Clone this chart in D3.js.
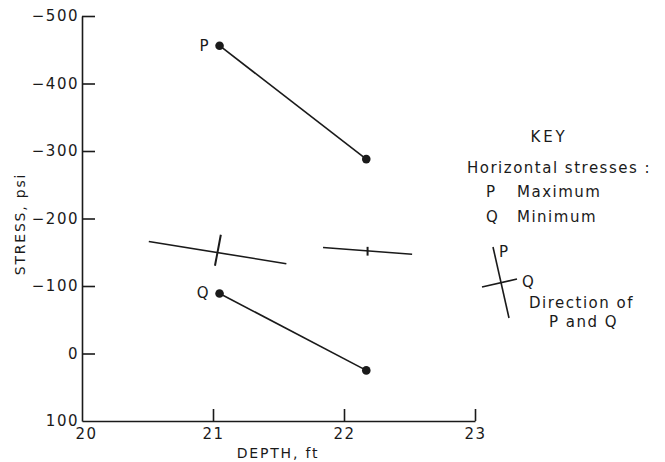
<!DOCTYPE html>
<html><head><meta charset="utf-8">
<script src="https://cdn.jsdelivr.net/npm/d3@7"></script>
<style>
html,body{margin:0;padding:0;background:#fff;}
svg text{font-family:"DejaVu Sans",sans-serif;fill:#1a1a1a;}
</style></head>
<body><svg id="c" width="665" height="462"></svg>
<script>
// ---- data ----
const xTickValues = [20, 21, 22, 23];
const xTickLabels = ["20", "21", "22", "23"];
const yTickValues = [-500, -400, -300, -200, -100, 0, 100];
const yTickLabels = ["\u2212500", "\u2212400", "\u2212300", "\u2212200", "\u2212100", "0", "100"];
const seriesNames = ["P", "Q"];
const pDepth = [21.05, 22.17];
const pStress = [-456, -288];
const qDepth = [21.05, 22.17];
const qStress = [-89, 25];
// direction symbols: long line (Q) and crossing line (P), endpoints in data units
const dirLongX1 = [20.51, 21.84];
const dirLongY1 = [-166, -157];
const dirLongX2 = [21.56, 22.52];
const dirLongY2 = [-133, -147];
const dirCrossX1 = [21.06, 22.18];
const dirCrossY1 = [-176, -158];
const dirCrossX2 = [21.015, 22.18];
const dirCrossY2 = [-130, -145];
const keyLines = ["Horizontal  stresses :", "Maximum", "Minimum"];

const svg = d3.select("#c");
const ink = "#1a1a1a";
const x = d3.scaleLinear().domain([20, 23]).range([82, 475]);
const y = d3.scaleLinear().domain([-500, 100]).range([16, 421]);

// axes
const gx = svg.append("g").attr("transform", `translate(0,${y(100)})`)
  .call(d3.axisBottom(x).tickValues(xTickValues).tickFormat((d,i)=>xTickLabels[i])
    .tickSizeInner(-12).tickSizeOuter(0).tickPadding(7));
const gy = svg.append("g").attr("transform", `translate(${x(20)},0)`)
  .call(d3.axisLeft(y).tickValues(yTickValues).tickFormat((d,i)=>yTickLabels[i])
    .tickSizeInner(-13).tickSizeOuter(0).tickPadding(3));
[gx, gy].forEach(g => {
  g.selectAll("path,line").attr("stroke", ink).attr("stroke-width", 1.6);
  g.selectAll("text").attr("font-size", 15).attr("letter-spacing", 1.5).attr("fill", ink)
    .style("font-family", '"DejaVu Sans",sans-serif');
});
gy.selectAll(".tick").filter(d => d === 100).select("line").remove();
gx.selectAll(".tick").filter(d => d === 20).select("line").remove();
gx.selectAll(".tick text").filter(d => d === 20).attr("dx", 4);

// axis titles
svg.append("text").attr("x", 278).attr("y", 453).attr("text-anchor", "middle")
  .attr("dominant-baseline", "central").attr("font-size", 14).attr("letter-spacing", 1.8).text("DEPTH, ft");
svg.append("text").attr("transform", `translate(20,224) rotate(-90)`).attr("text-anchor", "middle")
  .attr("dominant-baseline", "central").attr("font-size", 14).attr("letter-spacing", 1.8).text("STRESS, psi");

// series
const series = [
  {name: seriesNames[0], xs: pDepth, ys: pStress},
  {name: seriesNames[1], xs: qDepth, ys: qStress}
];
const line = d3.line().x(d => x(d[0])).y(d => y(d[1]));
series.forEach(s => {
  const pts = s.xs.map((v, i) => [v, s.ys[i]]);
  svg.append("path").attr("d", line(pts)).attr("fill", "none").attr("stroke", ink).attr("stroke-width", 1.6);
  svg.selectAll(null).data(pts).enter().append("circle")
    .attr("cx", d => x(d[0])).attr("cy", d => y(d[1])).attr("r", 4.3).attr("fill", ink);
  svg.append("text").attr("x", x(pts[0][0]) - 11).attr("y", y(pts[0][1])).attr("text-anchor", "end")
    .attr("dominant-baseline", "central").attr("font-size", 15).text(s.name);
});

// direction symbols
dirLongX1.forEach((v, i) => {
  svg.append("line").attr("x1", x(v)).attr("y1", y(dirLongY1[i])).attr("x2", x(dirLongX2[i])).attr("y2", y(dirLongY2[i]))
    .attr("stroke", ink).attr("stroke-width", 1.6);
  svg.append("line").attr("x1", x(dirCrossX1[i])).attr("y1", y(dirCrossY1[i])).attr("x2", x(dirCrossX2[i])).attr("y2", y(dirCrossY2[i]))
    .attr("stroke", ink).attr("stroke-width", 2);
});

// key
const k = svg.append("g");
const kt = (tx, ty, s, anchor) => k.append("text").attr("x", tx).attr("y", ty)
  .attr("text-anchor", anchor || "start").attr("dominant-baseline", "central")
  .attr("font-size", 15).attr("letter-spacing", 1.5).text(s);
kt(549, 137, "KEY", "middle").attr("letter-spacing", 2.8);
kt(467, 168, keyLines[0]);
kt(486, 192, seriesNames[0]);
kt(517, 192, keyLines[1]);
kt(486, 217, seriesNames[1]);
kt(517, 217, keyLines[2]);
k.append("line").attr("x1", 493).attr("y1", 247).attr("x2", 509).attr("y2", 318).attr("stroke", ink).attr("stroke-width", 1.6);
k.append("line").attr("x1", 482).attr("y1", 287).attr("x2", 517).attr("y2", 279).attr("stroke", ink).attr("stroke-width", 1.6);
kt(499, 252, seriesNames[0]);
kt(522, 282, seriesNames[1]);
kt(529, 303, "Direction  of");
kt(549, 322, "P and Q");
</script></body></html>
